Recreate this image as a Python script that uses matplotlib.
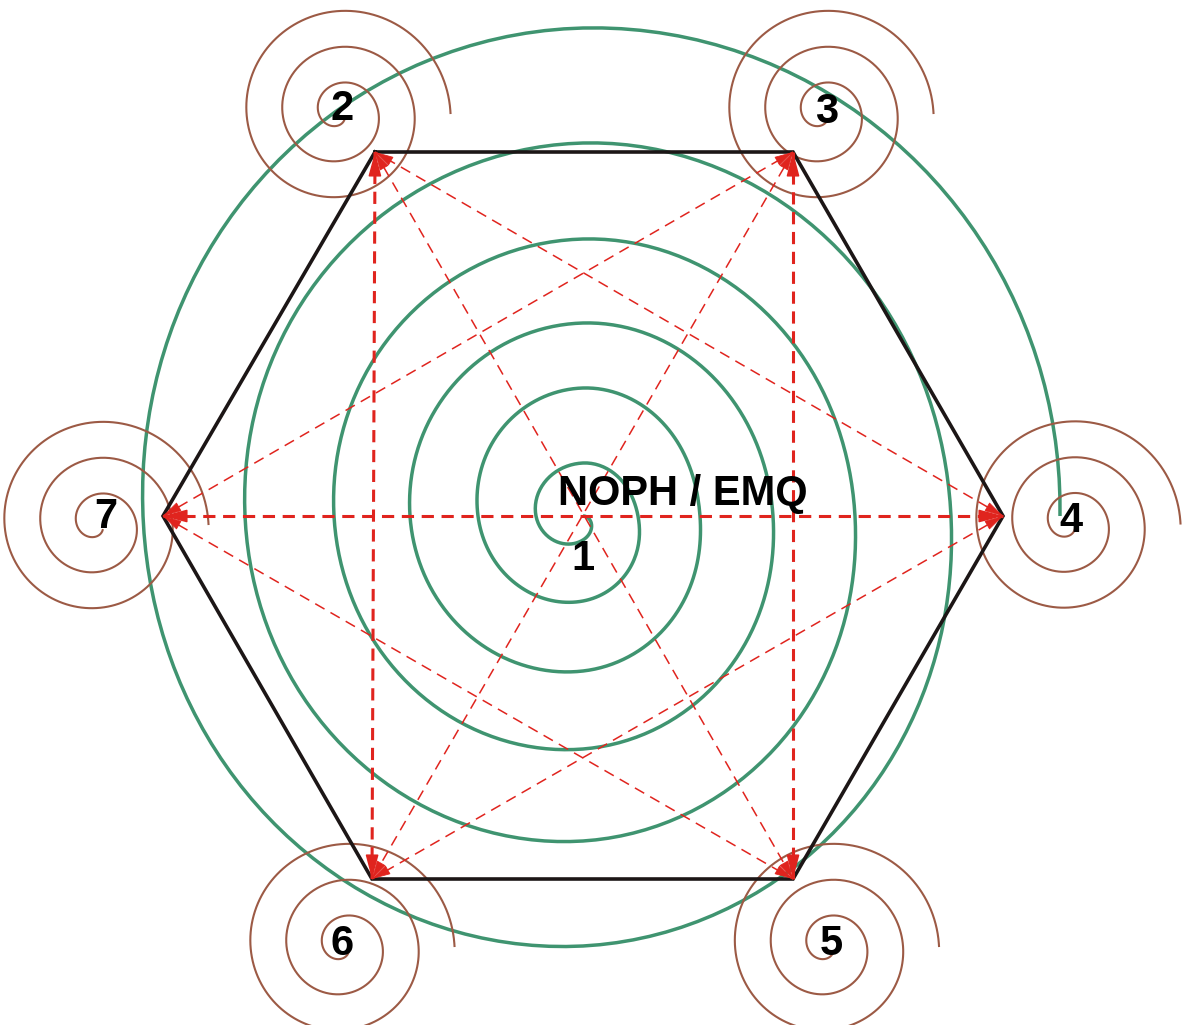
import numpy as np
import matplotlib
matplotlib.use("Agg")
import matplotlib.pyplot as plt

# hexagon corners (pixel space, y down): TL, TR, R, BR, BL, L
hex_x = [375, 793, 1003, 793, 372, 163]
hex_y = [152, 152, 516, 879, 879, 516]

# big green spiral, centre and radius read every quarter turn (clockwise, from bottom)
green_cx, green_cy = 583, 516
green_r = [0, 24, 47, 53, 55, 85, 105, 128, 117, 155, 173, 193, 190,
           233, 249, 277, 272, 325, 338, 373, 368, 430, 440, 488, 477]

# small brown spirals around the outer numbers
brown_cx = [339.5, 822.5, 1069.5, 828, 343.5, 97.5]
brown_cy = [113, 113, 523.5, 946, 946, 524]
brown_r_start = 8
brown_r_end = 111
brown_step = 36   # growth per turn

# labels
num_text = ["1", "2", "3", "4", "5", "6", "7"]
num_x = [583, 342, 827, 1071, 831, 342, 106]
num_y = [570, 120, 123, 532, 955, 955, 528]
title_text = "NOPH / EMQ"
title_x, title_y = 683, 505

# red arrows between corners (index pairs into hex)
thick_links = [(5, 2), (0, 4), (1, 3)]
thin_links = [(0, 3), (1, 4), (5, 1), (5, 3), (2, 0), (2, 4)]

GREEN = "#3f9470"
BROWN = "#9c5a45"
RED = "#e0241e"
BLACK = "#1c1616"


def catmull(vals, n=40):
    v = np.asarray(vals, float)
    p = np.concatenate([[2 * v[0] - v[1]], v, [2 * v[-1] - v[-2]]])
    t = np.linspace(0, 1, n, endpoint=False)
    out = []
    for i in range(1, len(p) - 2):
        p0, p1, p2, p3 = p[i - 1:i + 3]
        out.append(0.5 * (2 * p1 + (-p0 + p2) * t
                          + (2 * p0 - 5 * p1 + 4 * p2 - p3) * t ** 2
                          + (-p0 + 3 * p1 - 3 * p2 + p3) * t ** 3))
    out.append([v[-1]])
    return np.concatenate(out)


def head(ax, x0, y0, x1, y1, size, lw):
    # arrow head at (x1, y1), pointing away from (x0, y0)
    d = np.hypot(x1 - x0, y1 - y0)
    bx = x1 - (x1 - x0) / d * 10
    by = y1 - (y1 - y0) / d * 10
    ax.annotate("", xy=(x1, y1), xytext=(bx, by),
                arrowprops=dict(arrowstyle="-|>,head_length=%.2f,head_width=%.2f" % size,
                                color=RED, lw=lw * 0.5, shrinkA=0, shrinkB=0,
                                mutation_scale=20), zorder=5)


fig = plt.figure(figsize=(11.85, 10.25), dpi=100)
ax = fig.add_axes([0, 0, 1, 1])
ax.set_xlim(0, 1185)
ax.set_ylim(1025, 0)
ax.axis("off")

# green spiral
n = 40
r = catmull(green_r, n)
th = -np.linspace(0, (len(green_r) - 1) * np.pi / 2, len(r))
ax.plot(green_cx + r * np.cos(th), green_cy - r * np.sin(th),
        color=GREEN, lw=2.5, solid_capstyle="butt", zorder=2)

# brown spirals
psi_end = 2 * np.pi * brown_r_end / brown_step
psi = np.linspace(psi_end * brown_r_start / brown_r_end, psi_end, 800)
rb = brown_r_end * psi / psi_end
thb = psi_end - psi
for cx, cy in zip(brown_cx, brown_cy):
    ax.plot(cx + rb * np.cos(thb), cy - rb * np.sin(thb),
            color=BROWN, lw=1.5, zorder=2)

# hexagon
ax.plot(hex_x + hex_x[:1], hex_y + hex_y[:1], color=BLACK, lw=2.6,
        solid_joinstyle="miter", zorder=3)

# red dashed links with heads at both ends
for links, lw, dash, size in [(thick_links, 2.2, (4, 2.5), (0.75, 0.2)),
                              (thin_links, 1.1, (7, 4.5), (0.6, 0.16))]:
    for a, b in links:
        ax.plot([hex_x[a], hex_x[b]], [hex_y[a], hex_y[b]], color=RED, lw=lw,
                dashes=dash, zorder=4)
        head(ax, hex_x[a], hex_y[a], hex_x[b], hex_y[b], size, lw)
        head(ax, hex_x[b], hex_y[b], hex_x[a], hex_y[a], size, lw)

font = dict(family=["Liberation Sans", "DejaVu Sans"], weight="bold", fontsize=30,
            color="black", zorder=6)
for s, x, y in zip(num_text, num_x, num_y):
    ax.text(x, y, s, ha="center", va="baseline", **font)
ax.text(title_x, title_y, title_text, ha="center", va="baseline", **font)

fig.savefig("out.png", dpi=100)
